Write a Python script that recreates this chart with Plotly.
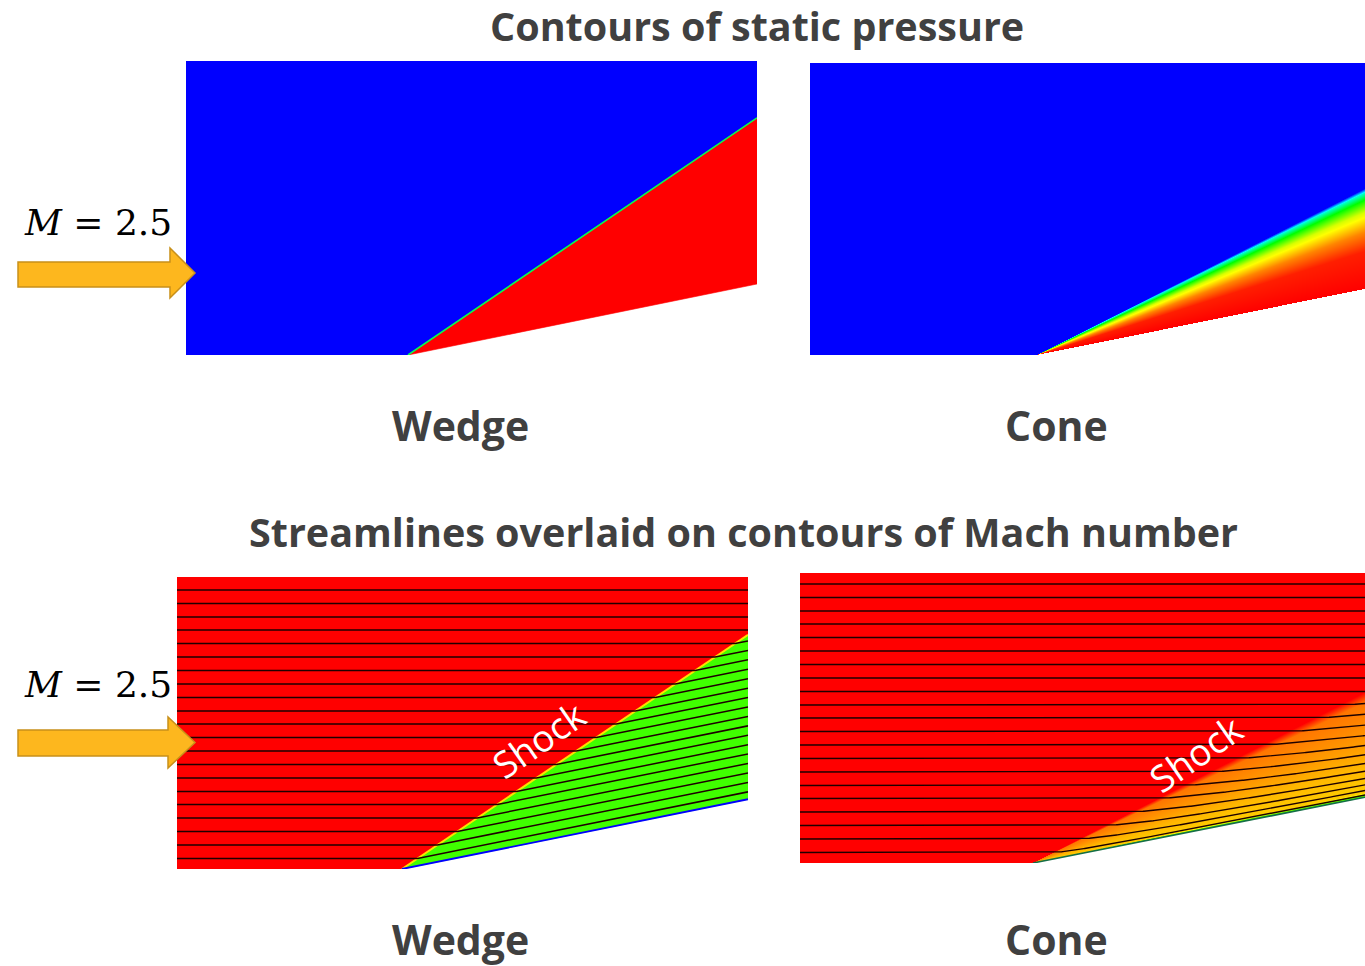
import numpy as np
import plotly.graph_objects as go
from plotly.colors import sample_colorscale

FIG_W, FIG_H = 1365, 966
PX = 100.0  # reference pixels per length unit

# ---------------- data ----------------
panel_keys      = ["wedge_p", "cone_p", "wedge_m", "cone_m"]
panel_left_px   = [186, 810, 177, 800]
panel_top_px    = [61, 63, 577, 573]
panel_length    = [5.71, 5.55, 5.71, 5.65]
panel_height    = [2.94, 2.92, 2.92, 2.90]
apex_x          = [2.22, 2.27, 2.25, 2.33]
body_angle_deg  = [11.5, 11.4, 11.4, 11.2]
shock_angle_deg = [34.2, 26.7, 34.1, 26.8]

# inlet heights of the streamlines (same seeding in both Mach plots)
streamline_seed_y = [2.79, 2.655, 2.52, 2.39, 2.255, 2.12, 1.985, 1.85, 1.715,
                     1.58, 1.45, 1.315, 1.18, 1.045, 0.91, 0.775, 0.645, 0.51,
                     0.375, 0.24, 0.105]

# normalised contour levels (0 = blue / minimum, 1 = red / maximum)
wedge_pressure_levels = [0.0, 0.42, 1.0]          # freestream, shock, post-shock
wedge_mach_levels     = [1.0, 0.78, 0.563, 0.0]   # freestream, shock, post-shock, wall

cone_pressure_ray_deg = [11.4, 17.5, 20.5, 23.5, 25.3, 26.3, 26.9]
cone_pressure_level   = [1.0, 0.97, 0.87, 0.71, 0.50, 0.30, 0.0]

cone_mach_ray_deg = [11.2, 11.9, 16.0, 20.0, 24.0, 25.8, 26.6, 27.2]
cone_mach_level   = [0.50, 0.80, 0.82, 0.85, 0.875, 0.885, 0.95, 1.0]

cone_flow_ray_deg = [11.2, 14.0, 18.0, 22.0, 26.8]
cone_flow_dir_deg = [11.2, 10.2, 8.2, 6.0, 4.3]

title_top    = "Contours of static pressure"
title_bottom = "Streamlines overlaid on contours of Mach number"
panel_labels = ["Wedge", "Cone", "Wedge", "Cone"]
mach_label   = "<i>M</i> = 2.5"

# ---------------- styling ----------------
RAINBOW = [[0.0, "rgb(0,0,255)"], [0.25, "rgb(0,255,255)"], [0.5, "rgb(0,255,0)"],
           [0.75, "rgb(255,255,0)"], [1.0, "rgb(255,0,0)"]]
TEXT_COLOR = "#404040"
TITLE_FONT = "Open Sans"
STREAM_COLOR = "rgb(30,0,0)"


def col(v):
    return sample_colorscale(RAINBOW, [v])[0]


def px_x(p):
    return p / FIG_W


def px_y(p):
    return 1 - p / FIG_H


fig = go.Figure()
layout_axes = {}
for i, key in enumerate(panel_keys):
    L, Hh = panel_length[i], panel_height[i]
    x0 = panel_left_px[i]
    y0 = panel_top_px[i]
    suffix = "" if i == 0 else str(i + 1)
    layout_axes["xaxis" + suffix] = dict(
        domain=[px_x(x0), min(1.0, px_x(x0 + L * PX))], range=[0, L],
        visible=False, fixedrange=True, anchor="y" + suffix)
    layout_axes["yaxis" + suffix] = dict(
        domain=[px_y(y0 + Hh * PX), px_y(y0)], range=[0, Hh],
        visible=False, fixedrange=True, anchor="x" + suffix)


def axref(i):
    s = "" if i == 0 else str(i + 1)
    return "x" + s, "y" + s


def geometry(i):
    L = panel_length[i]
    a = apex_x[i]
    yb = (L - a) * np.tan(np.radians(body_angle_deg[i]))
    ys = (L - a) * np.tan(np.radians(shock_angle_deg[i]))
    return L, panel_height[i], a, yb, ys


def poly(i, xs, ys, color):
    xa, ya = axref(i)
    fig.add_trace(go.Scatter(x=xs, y=ys, xaxis=xa, yaxis=ya, mode="lines",
                             fill="toself", fillcolor=color,
                             line=dict(width=0.6, color=color),
                             hoverinfo="skip", showlegend=False))


def line(i, xs, ys, color, width):
    xa, ya = axref(i)
    fig.add_trace(go.Scatter(x=xs, y=ys, xaxis=xa, yaxis=ya, mode="lines",
                             line=dict(width=width, color=color),
                             hoverinfo="skip", showlegend=False))


def cone_field(i, ray_deg, level):
    L, Hh, a, yb, ys = geometry(i)
    xs = np.arange(0.005, L, 0.01)
    yv = np.arange(0.005, Hh, 0.01)
    X, Y = np.meshgrid(xs, yv)
    th = np.degrees(np.arctan2(Y, X - a))
    Z = np.interp(th, ray_deg, level)
    Z[(X > a) & (th < body_angle_deg[i])] = np.nan
    xa, ya = axref(i)
    fig.add_trace(go.Heatmap(x=xs, y=yv, z=Z, xaxis=xa, yaxis=ya,
                             colorscale=RAINBOW, zmin=0, zmax=1,
                             showscale=False, hoverinfo="skip", zsmooth=False))


# ---- panel 1 : wedge, static pressure ----
i = 0
L, Hh, a, yb, ys = geometry(i)
poly(i, [0, 0, L, L, a, 0], [0, Hh, Hh, ys, 0, 0], col(wedge_pressure_levels[0]))
poly(i, [a, L, L, a], [0, ys, yb, 0], col(wedge_pressure_levels[2]))
line(i, [a, L], [0, ys], col(wedge_pressure_levels[1]), 1.6)

# ---- panel 2 : cone, static pressure ----
cone_field(1, cone_pressure_ray_deg, cone_pressure_level)

# ---- panel 3 : wedge, Mach + streamlines ----
i = 2
L, Hh, a, yb, ys = geometry(i)
poly(i, [0, 0, L, L, a, 0], [0, Hh, Hh, ys, 0, 0], col(wedge_mach_levels[0]))
poly(i, [a, L, L, a], [0, ys, yb, 0], col(wedge_mach_levels[2]))
line(i, [a, L], [0, ys], col(wedge_mach_levels[1]), 2.0)
tb = np.tan(np.radians(body_angle_deg[i]))
tsh = np.tan(np.radians(shock_angle_deg[i]))
for y0 in streamline_seed_y:
    xs_hit = a + y0 / tsh
    if xs_hit >= L:
        line(i, [0, L], [y0, y0], STREAM_COLOR, 1.5)
    else:
        line(i, [0, xs_hit, L], [y0, y0, y0 + (L - xs_hit) * tb], STREAM_COLOR, 1.5)
line(i, [a, L], [0, yb], col(wedge_mach_levels[3]), 1.8)

# ---- panel 4 : cone, Mach + streamlines ----
i = 3
cone_field(i, cone_mach_ray_deg, cone_mach_level)
L, Hh, a, yb, ys = geometry(i)
tsh = np.tan(np.radians(shock_angle_deg[i]))
for y0 in streamline_seed_y:
    xs_hit = a + y0 / tsh
    if xs_hit >= L:
        line(i, [0, L], [y0, y0], STREAM_COLOR, 1.5)
        continue
    px_, py_ = [0.0, xs_hit], [y0, y0]
    x, y = xs_hit, y0
    dx = 0.01
    while x < L:
        th = np.degrees(np.arctan2(y, x - a))
        d = np.interp(th, cone_flow_ray_deg, cone_flow_dir_deg)
        x += dx
        y += np.tan(np.radians(d)) * dx
        px_.append(x)
        py_.append(y)
    line(i, px_, py_, STREAM_COLOR, 1.4)
line(i, [a, L], [0, yb], "rgb(20,110,70)", 1.6)

# ---------------- texts ----------------
ann = []


def text(xp, yp, s, size, family, color=TEXT_COLOR, bold=False, angle=0):
    ann.append(dict(x=px_x(xp), y=px_y(yp), xref="paper", yref="paper",
                    text=("<b>%s</b>" % s) if bold else s, showarrow=False,
                    xanchor="center", yanchor="middle", textangle=angle,
                    font=dict(size=size, family=family, color=color)))


text(757, 26, title_top, 39.5, TITLE_FONT, bold=True)
text(744, 532, title_bottom, 39.5, TITLE_FONT, bold=True)
text(460, 425, panel_labels[0], 41, TITLE_FONT, bold=True)
text(1056, 425, panel_labels[1], 41, TITLE_FONT, bold=True)
text(460, 939, panel_labels[2], 41, TITLE_FONT, bold=True)
text(1056, 939, panel_labels[3], 41, TITLE_FONT, bold=True)
text(98, 222, mach_label, 36, "DejaVu Serif", color="black")
text(98, 684, mach_label, 36, "DejaVu Serif", color="black")
text(538, 739, "Shock", 37, TITLE_FONT, color="white", angle=-35)
text(1195, 753, "Shock", 37, TITLE_FONT, color="white", angle=-35)

# ---------------- inflow arrows ----------------
shapes = []
arrow_specs = [  # tail x, body top, body bottom, head start x, head top, head bottom, tip x
    (18, 262, 287, 170, 248, 298, 195),
    (18, 730, 756, 168, 717, 768, 195),
]
for tx, bt, bb, hx, ht, hb, tip in arrow_specs:
    mid = (ht + hb) / 2
    pts = [(tx, bt), (hx, bt), (hx, ht), (tip, mid), (hx, hb), (hx, bb), (tx, bb)]
    path = "M " + " L ".join("%.5f,%.5f" % (px_x(p[0]), px_y(p[1])) for p in pts) + " Z"
    shapes.append(dict(type="path", xref="paper", yref="paper", path=path,
                       fillcolor="#FDB71E", line=dict(color="#C8901A", width=1.5)))

fig.update_layout(width=FIG_W, height=FIG_H, margin=dict(l=0, r=0, t=0, b=0),
                  paper_bgcolor="white", plot_bgcolor="white",
                  annotations=ann, shapes=shapes, **layout_axes)
fig.write_html("out.html", config={"displayModeBar": False, "staticPlot": True},
               post_script="document.body.style.margin='0px';"
                           "document.body.style.overflow='hidden';")
